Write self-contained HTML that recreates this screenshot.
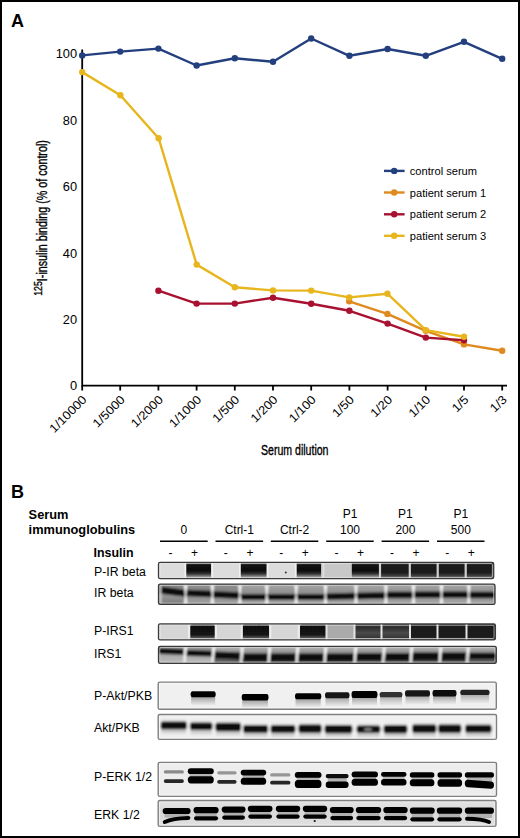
<!DOCTYPE html>
<html><head><meta charset="utf-8">
<style>
html,body{margin:0;padding:0;background:#fff;}
body{width:520px;height:838px;overflow:hidden;position:relative;font-family:"Liberation Sans",sans-serif;}
#frame{position:absolute;left:0;top:0;width:520px;height:838px;box-sizing:border-box;border:2px solid #000;}
svg{position:absolute;left:0;top:0;}
svg text{font-family:"Liberation Sans",sans-serif;}
</style></head>
<body>
<svg width="520" height="838" viewBox="0 0 520 838">
<!-- Panel A -->
<text x="11" y="26.5" font-size="18" font-weight="bold">A</text>
<!-- axes -->
<g stroke="#000" stroke-width="1.8" fill="none">
<path d="M82.2 49.5 V385.7 H507"/>
<path d="M82.2 385.7 V390.5 M120.2 385.7 V390.5 M158.4 385.7 V390.5 M196.6 385.7 V390.5 M234.8 385.7 V390.5 M273 385.7 V390.5 M311.2 385.7 V390.5 M349.4 385.7 V390.5 M387.6 385.7 V390.5 M425.8 385.7 V390.5 M464 385.7 V390.5 M502.2 385.7 V390.5"/>
</g>
<g font-size="12" text-anchor="end" fill="#000">
<text transform="translate(77.1,58.35) scale(1.07,1)">100</text>
<text transform="translate(77.1,124.75) scale(1.07,1)">80</text>
<text transform="translate(77.1,191.15) scale(1.07,1)">60</text>
<text transform="translate(77.1,257.55) scale(1.07,1)">40</text>
<text transform="translate(77.1,323.95) scale(1.07,1)">20</text>
<text transform="translate(77.1,390.35) scale(1.07,1)">0</text>
</g>
<g font-size="12" text-anchor="end" fill="#000">
<text transform="translate(87.4,400.3) rotate(-45) scale(1.08,1)">1/10000</text>
<text transform="translate(125.6,400.3) rotate(-45) scale(1.08,1)">1/5000</text>
<text transform="translate(163.8,400.3) rotate(-45) scale(1.08,1)">1/2000</text>
<text transform="translate(202.0,400.3) rotate(-45) scale(1.08,1)">1/1000</text>
<text transform="translate(240.2,400.3) rotate(-45) scale(1.08,1)">1/500</text>
<text transform="translate(278.4,400.3) rotate(-45) scale(1.08,1)">1/200</text>
<text transform="translate(316.6,400.3) rotate(-45) scale(1.08,1)">1/100</text>
<text transform="translate(354.8,400.3) rotate(-45) scale(1.08,1)">1/50</text>
<text transform="translate(393.0,400.3) rotate(-45) scale(1.08,1)">1/20</text>
<text transform="translate(431.2,400.3) rotate(-45) scale(1.08,1)">1/10</text>
<text transform="translate(469.4,400.3) rotate(-45) scale(1.08,1)">1/5</text>
<text transform="translate(507.6,400.3) rotate(-45) scale(1.08,1)">1/3</text>
</g>
<text x="261" y="454.6" font-size="14" transform="translate(261,0) scale(0.755,1) translate(-261,0)" stroke="#000" stroke-width="0.35">Serum dilution</text>
<text transform="translate(46.5,295.8) rotate(-90) scale(0.765,1)" font-size="14" stroke="#000" stroke-width="0.35"><tspan font-size="11.5" dy="-5">125</tspan><tspan dy="5">I-insulin binding (% of control)</tspan></text>
<!-- series -->
<g fill="none" stroke-width="2.4" stroke-linejoin="round">
<polyline stroke="#df8a1f" points="349.2,301.3 387.4,313.9 425.8,330.8 464,344.4 502.2,350.7"/>
<polyline stroke="#a8112f" points="158.4,290.7 196.6,303.6 234.8,303.6 273,297.7 311.2,303.7 349.4,310.8 387.6,323.6 425.8,337.6 464,340.3"/>
<polyline stroke="#e7b51c" points="82.2,72.1 120.4,95.3 158.6,138.2 196.7,264.6 234.8,287.3 273,290.4 311.2,290.6 349.2,297.4 387.4,293.7 425.8,330.1 464,336.8"/>
<polyline stroke="#233f7e" points="82.2,55.4 120.2,51.6 158.4,48.6 196.6,65.5 234.8,58.3 273,61.7 311.2,38.5 349.4,55.8 387.6,49 425.8,55.8 464,41.8 502.2,58.8"/>
</g>
<g fill="#df8a1f"><circle cx="349.2" cy="301.3" r="3.2"/><circle cx="387.4" cy="313.9" r="3.2"/><circle cx="425.8" cy="330.8" r="3.2"/><circle cx="464" cy="344.4" r="3.2"/><circle cx="502.2" cy="350.7" r="3.2"/></g>
<g fill="#a8112f"><circle cx="158.4" cy="290.7" r="3.2"/><circle cx="196.6" cy="303.6" r="3.2"/><circle cx="234.8" cy="303.6" r="3.2"/><circle cx="273" cy="297.7" r="3.2"/><circle cx="311.2" cy="303.7" r="3.2"/><circle cx="349.4" cy="310.8" r="3.2"/><circle cx="387.6" cy="323.6" r="3.2"/><circle cx="425.8" cy="337.6" r="3.2"/><circle cx="464" cy="340.3" r="3.2"/></g>
<g fill="#e7b51c"><circle cx="82.2" cy="72.1" r="3.2"/><circle cx="120.4" cy="95.3" r="3.2"/><circle cx="158.6" cy="138.2" r="3.2"/><circle cx="196.7" cy="264.6" r="3.2"/><circle cx="234.8" cy="287.3" r="3.2"/><circle cx="273" cy="290.4" r="3.2"/><circle cx="311.2" cy="290.6" r="3.2"/><circle cx="349.2" cy="297.4" r="3.2"/><circle cx="387.4" cy="293.7" r="3.2"/><circle cx="425.8" cy="330.1" r="3.2"/><circle cx="464" cy="336.8" r="3.2"/></g>
<g fill="#233f7e"><circle cx="82.2" cy="55.4" r="3.2"/><circle cx="120.2" cy="51.6" r="3.2"/><circle cx="158.4" cy="48.6" r="3.2"/><circle cx="196.6" cy="65.5" r="3.2"/><circle cx="234.8" cy="58.3" r="3.2"/><circle cx="273" cy="61.7" r="3.2"/><circle cx="311.2" cy="38.5" r="3.2"/><circle cx="349.4" cy="55.8" r="3.2"/><circle cx="387.6" cy="49" r="3.2"/><circle cx="425.8" cy="55.8" r="3.2"/><circle cx="464" cy="41.8" r="3.2"/><circle cx="502.2" cy="58.8" r="3.2"/></g>
<!-- legend -->
<g stroke-width="2.4">
<line x1="384" y1="170.9" x2="404.6" y2="170.9" stroke="#233f7e"/><circle cx="394.2" cy="170.9" r="3.2" fill="#233f7e"/>
<line x1="384" y1="192.5" x2="404.6" y2="192.5" stroke="#df8a1f"/><circle cx="394.2" cy="192.5" r="3.2" fill="#df8a1f"/>
<line x1="384" y1="214.3" x2="404.6" y2="214.3" stroke="#a8112f"/><circle cx="394.2" cy="214.3" r="3.2" fill="#a8112f"/>
<line x1="384" y1="235.8" x2="404.6" y2="235.8" stroke="#e7b51c"/><circle cx="394.2" cy="235.8" r="3.2" fill="#e7b51c"/>
</g>
<g font-size="11.1" fill="#000">
<text x="409.8" y="175">control serum</text>
<text x="409.8" y="196.6">patient serum 1</text>
<text x="409.8" y="218.4">patient serum 2</text>
<text x="409.8" y="239.9">patient serum 3</text>
</g>

<!-- Panel B -->
<text x="11" y="497.9" font-size="18" font-weight="bold">B</text>
<g font-size="12.8" font-weight="bold"><text x="28.6" y="518.5">Serum</text><text x="28.6" y="533.5">immunoglobulins</text></g>
<g stroke="#000" stroke-width="1.5">
<line x1="160" y1="541.2" x2="207.7" y2="541.2"/>
<line x1="215.5" y1="541.2" x2="263.1" y2="541.2"/>
<line x1="270.8" y1="541.2" x2="318.3" y2="541.2"/>
<line x1="326.2" y1="541.2" x2="373.7" y2="541.2"/>
<line x1="381.6" y1="541.2" x2="429.1" y2="541.2"/>
<line x1="437" y1="541.2" x2="484.5" y2="541.2"/>
</g>
<g font-size="12" text-anchor="middle">
<text x="183.8" y="533.5">0</text>
<text x="239.3" y="533.5">Ctrl-1</text>
<text x="294.6" y="533.5">Ctrl-2</text>
<text x="350" y="518">P1</text><text x="350" y="533.5">100</text>
<text x="405.4" y="518">P1</text><text x="405.4" y="533.5">200</text>
<text x="460.8" y="518">P1</text><text x="460.8" y="533.5">500</text>
</g>
<text x="93.6" y="556.9" font-size="12.4" font-weight="bold">Insulin</text>
<g font-size="12" text-anchor="middle" id="pm">
<text x="170.4" y="556.9">-</text><text x="194.5" y="557">+</text><text x="225.8" y="556.9">-</text><text x="249.9" y="557">+</text><text x="281.2" y="556.9">-</text><text x="305.2" y="557">+</text><text x="336.5" y="556.9">-</text><text x="360.6" y="557">+</text><text x="391.9" y="556.9">-</text><text x="415.9" y="557">+</text><text x="447.2" y="556.9">-</text><text x="471.3" y="557">+</text>
</g>
<g font-size="12.3">
<text x="94" y="576.4">P-IR beta</text>
<text x="94" y="596.6">IR beta</text>
<text x="94" y="635.4">P-IRS1</text>
<text x="94" y="657.9">IRS1</text>
<text x="94" y="699.7">P-Akt/PKB</text>
<text x="94" y="731.8">Akt/PKB</text>
<text x="94" y="780.9">P-ERK 1/2</text>
<text x="94" y="818.6">ERK 1/2</text>
</g>
<!-- blots -->
<defs><linearGradient id="g1" x1="0" y1="0" x2="0" y2="1"><stop offset="0" stop-color="#3a3a3a"/><stop offset="0.12" stop-color="#121212"/><stop offset="0.55" stop-color="#101010"/><stop offset="0.72" stop-color="#3a3a3a"/><stop offset="0.86" stop-color="#808080"/><stop offset="1" stop-color="#a0a0a0"/></linearGradient><linearGradient id="g2" x1="0" y1="0" x2="0" y2="1"><stop offset="0" stop-color="#3a3a3a"/><stop offset="0.12" stop-color="#1c1c1c"/><stop offset="0.6" stop-color="#1a1a1a"/><stop offset="0.8" stop-color="#3a3a3a"/><stop offset="1" stop-color="#6a6a6a"/></linearGradient><clipPath id="c3"><rect x="158.5" y="562.3" width="335.2" height="16.4" rx="1.6"/></clipPath><filter id="f4" x="-5%" y="-50%" width="110%" height="200%"><feGaussianBlur stdDeviation="0.6"/></filter><linearGradient id="g5" x1="0" y1="0" x2="0" y2="1"><stop offset="0" stop-color="#b0b0b0"/><stop offset="0.45" stop-color="#8e8e8e"/><stop offset="0.8" stop-color="#a2a2a2"/><stop offset="1" stop-color="#bababa"/></linearGradient><linearGradient id="g6" x1="0" y1="0" x2="0" y2="1"><stop offset="0" stop-color="#7a7a7a"/><stop offset="0.5" stop-color="#9a9a9a"/><stop offset="1" stop-color="#707070"/></linearGradient><linearGradient id="g7" x1="0" y1="0" x2="0" y2="1"><stop offset="0" stop-color="#969696"/><stop offset="0.4" stop-color="#848484"/><stop offset="1" stop-color="#aaaaaa"/></linearGradient><clipPath id="c8"><rect x="158.5" y="584.2" width="336.5" height="20.2" rx="1.6"/></clipPath><filter id="f9" x="-5%" y="-50%" width="110%" height="200%"><feGaussianBlur stdDeviation="0.85"/></filter><linearGradient id="g10" x1="0" y1="0" x2="0" y2="1"><stop offset="0" stop-color="#3a3a3a"/><stop offset="0.1" stop-color="#111"/><stop offset="0.55" stop-color="#121212"/><stop offset="0.75" stop-color="#5a5a5a"/><stop offset="1" stop-color="#9a9a9a"/></linearGradient><linearGradient id="g11" x1="0" y1="0" x2="0" y2="1"><stop offset="0" stop-color="#4a4a4a"/><stop offset="0.3" stop-color="#2e2e2e"/><stop offset="0.55" stop-color="#4a4a4a"/><stop offset="0.75" stop-color="#383838"/><stop offset="1" stop-color="#5a5a5a"/></linearGradient><linearGradient id="g12" x1="0" y1="0" x2="0" y2="1"><stop offset="0" stop-color="#3a3a3a"/><stop offset="0.2" stop-color="#1a1a1a"/><stop offset="0.7" stop-color="#1c1c1c"/><stop offset="1" stop-color="#3a3a3a"/></linearGradient><clipPath id="c13"><rect x="158.5" y="623.9" width="336.9" height="15.9" rx="1.6"/></clipPath><filter id="f14" x="-5%" y="-50%" width="110%" height="200%"><feGaussianBlur stdDeviation="0.6"/></filter><linearGradient id="g15" x1="0" y1="0" x2="0" y2="1"><stop offset="0" stop-color="#cccccc"/><stop offset="0.35" stop-color="#989898"/><stop offset="0.8" stop-color="#555"/><stop offset="1" stop-color="#8a8a8a"/></linearGradient><linearGradient id="g16" x1="0" y1="0" x2="0" y2="1"><stop offset="0" stop-color="#888"/><stop offset="0.5" stop-color="#aaa"/><stop offset="1" stop-color="#c4c4c4"/></linearGradient><clipPath id="c17"><rect x="158.5" y="646.3" width="337.8" height="17.1" rx="1.6"/></clipPath><filter id="f18" x="-5%" y="-50%" width="110%" height="200%"><feGaussianBlur stdDeviation="0.85"/></filter><linearGradient id="g19" x1="0" y1="0" x2="0" y2="1"><stop offset="0" stop-color="#707070"/><stop offset="0.3" stop-color="#a4a4a4"/><stop offset="0.7" stop-color="#cfcfcf"/><stop offset="1" stop-color="#ececec"/></linearGradient><clipPath id="c20"><rect x="158.2" y="682.1" width="338.1" height="27.2" rx="1.6"/></clipPath><filter id="f21" x="-5%" y="-50%" width="110%" height="200%"><feGaussianBlur stdDeviation="0.75"/></filter><linearGradient id="g22" x1="0" y1="0" x2="0" y2="1"><stop offset="0" stop-color="#808080"/><stop offset="0.4" stop-color="#b8b8b8"/><stop offset="1" stop-color="#e8e8e8"/></linearGradient><linearGradient id="g23" x1="0" y1="0" x2="0" y2="1"><stop offset="0" stop-color="#ececec"/><stop offset="1" stop-color="#c8c8c8"/></linearGradient><clipPath id="c24"><rect x="158.2" y="714.5" width="338.3" height="24.9" rx="1.6"/></clipPath><filter id="f25" x="-5%" y="-50%" width="110%" height="200%"><feGaussianBlur stdDeviation="0.8"/></filter><linearGradient id="g26" x1="0" y1="0" x2="0" y2="1"><stop offset="0" stop-color="#e8e8e8"/><stop offset="1" stop-color="#c0c0c0"/></linearGradient><clipPath id="c27"><rect x="158.2" y="762.4" width="338.3" height="34.0" rx="1.6"/></clipPath><filter id="f28" x="-5%" y="-50%" width="110%" height="200%"><feGaussianBlur stdDeviation="0.7"/></filter><linearGradient id="g29" x1="0" y1="0" x2="0" y2="1"><stop offset="0" stop-color="#e6e6e6"/><stop offset="0.5" stop-color="#d8d8d8"/><stop offset="1" stop-color="#e4e4e4"/></linearGradient><clipPath id="c30"><rect x="158.2" y="800.5" width="337.8" height="25.9" rx="1.6"/></clipPath><filter id="f31" x="-5%" y="-50%" width="110%" height="200%"><feGaussianBlur stdDeviation="0.7"/></filter></defs>
<g clip-path="url(#c3)"><g filter="url(#f4)"><rect x="155.5" y="559.3" width="341.2" height="22.4" fill="#e0e0e0"/><rect x="158.5" y="559.3" width="27.8" height="22.4" fill="#dcdcdc"/><rect x="158.5" y="559.3" width="1.8" height="22.4" fill="#f0f0f0"/><rect x="184.5" y="559.3" width="1.8" height="22.4" fill="#f0f0f0"/><rect x="186.3" y="562.7" width="25.1" height="15.7" fill="url(#g1)"/><rect x="211.4" y="559.3" width="29.4" height="22.4" fill="#dcdcdc"/><rect x="211.4" y="559.3" width="1.8" height="22.4" fill="#f0f0f0"/><rect x="239.0" y="559.3" width="1.8" height="22.4" fill="#f0f0f0"/><rect x="240.8" y="562.7" width="26.0" height="15.7" fill="url(#g1)"/><rect x="266.8" y="559.3" width="29.9" height="22.4" fill="#dcdcdc"/><rect x="266.8" y="559.3" width="1.8" height="22.4" fill="#f0f0f0"/><rect x="294.9" y="559.3" width="1.8" height="22.4" fill="#f0f0f0"/><rect x="296.7" y="562.7" width="25.5" height="15.7" fill="url(#g1)"/><rect x="322.2" y="559.3" width="29.6" height="22.4" fill="#c8c8c8"/><rect x="322.2" y="559.3" width="2.0" height="22.4" fill="#e8e8e8"/><rect x="351.8" y="562.7" width="28.2" height="15.7" fill="url(#g1)"/><rect x="380.0" y="562.7" width="29.8" height="15.7" fill="url(#g2)"/><rect x="409.8" y="562.7" width="27.9" height="15.7" fill="url(#g2)"/><rect x="437.7" y="562.7" width="28.0" height="15.7" fill="url(#g2)"/><rect x="465.7" y="562.7" width="28.0" height="15.7" fill="url(#g2)"/><rect x="321.1" y="559.3" width="2.2" height="22.4" fill="#d0d0d0"/><rect x="378.9" y="559.3" width="2.2" height="22.4" fill="#d0d0d0"/><rect x="408.7" y="559.3" width="2.2" height="22.4" fill="#d0d0d0"/><rect x="436.6" y="559.3" width="2.2" height="22.4" fill="#d0d0d0"/><rect x="464.6" y="559.3" width="2.2" height="22.4" fill="#d0d0d0"/><circle cx="285.8" cy="572.4" r="1" fill="#333"/></g></g>
<rect x="159.8" y="563.6" width="332.6" height="13.8" rx="1" fill="none" stroke="#e6e6e6" stroke-width="0.9" opacity="0.8"/>
<rect x="158.5" y="562.3" width="335.2" height="16.4" rx="1.6" fill="none" stroke="#3a3a3a" stroke-width="1.3"/>
<g clip-path="url(#c8)"><g filter="url(#f9)"><rect x="155.5" y="581.2" width="342.5" height="26.2" fill="url(#g5)"/><rect x="155.5" y="581.2" width="30.1" height="26.2" fill="url(#g6)"/><rect x="185.6" y="581.2" width="54.3" height="26.2" fill="url(#g7)"/><path d="M160.5 586.5 L183.6 589.4 Q186.6 589.4 186.6 593.0 Q186.6 596.6 183.6 596.6 L160.5 593.7 Q157.5 593.7 157.5 590.1 Q157.5 586.5 160.5 586.5Z" fill="#0c0c0c"/><path d="M187.6 589.8 L210.4 590.8 Q213.4 590.8 213.4 594.0 Q213.4 597.2 210.4 597.2 L187.6 596.2 Q184.6 596.2 184.6 593.0 Q184.6 589.8 187.6 589.8Z" fill="#0c0c0c"/><path d="M214.4 591.3 L237.9 592.3 Q240.9 592.3 240.9 595.5 Q240.9 598.7 237.9 598.7 L214.4 597.7 Q211.4 597.7 211.4 594.5 Q211.4 591.3 214.4 591.3Z" fill="#0c0c0c"/><path d="M241.9 593.9 L264.8 593.9 Q267.8 593.9 267.8 597.0 Q267.8 600.1 264.8 600.1 L241.9 600.1 Q238.9 600.1 238.9 597.0 Q238.9 593.9 241.9 593.9Z" fill="#0c0c0c"/><path d="M268.8 593.9 L294.2 593.9 Q297.2 593.9 297.2 597.0 Q297.2 600.1 294.2 600.1 L268.8 600.1 Q265.8 600.1 265.8 597.0 Q265.8 593.9 268.8 593.9Z" fill="#0c0c0c"/><path d="M298.2 593.9 L323.5 593.9 Q326.5 593.9 326.5 597.0 Q326.5 600.1 323.5 600.1 L298.2 600.1 Q295.2 600.1 295.2 597.0 Q295.2 593.9 298.2 593.9Z" fill="#0c0c0c"/><path d="M327.5 593.4 L354.0 592.8 Q357.0 592.8 357.0 596.0 Q357.0 599.2 354.0 599.2 L327.5 599.8 Q324.5 599.8 324.5 596.6 Q324.5 593.4 327.5 593.4Z" fill="#0c0c0c"/><path d="M358.0 592.7 L383.9 592.2 Q386.9 592.2 386.9 595.5 Q386.9 598.8 383.9 598.8 L358.0 599.3 Q355.0 599.3 355.0 596.0 Q355.0 592.7 358.0 592.7Z" fill="#0c0c0c"/><path d="M387.9 591.7 L411.5 591.7 Q414.5 591.7 414.5 595.0 Q414.5 598.3 411.5 598.3 L387.9 598.3 Q384.9 598.3 384.9 595.0 Q384.9 591.7 387.9 591.7Z" fill="#0c0c0c"/><path d="M415.5 591.5 L439.5 591.5 Q442.5 591.5 442.5 594.8 Q442.5 598.1 439.5 598.1 L415.5 598.1 Q412.5 598.1 412.5 594.8 Q412.5 591.5 415.5 591.5Z" fill="#0c0c0c"/><path d="M443.5 591.5 L466.8 591.5 Q469.8 591.5 469.8 594.8 Q469.8 598.1 466.8 598.1 L443.5 598.1 Q440.5 598.1 440.5 594.8 Q440.5 591.5 443.5 591.5Z" fill="#0c0c0c"/><path d="M470.8 591.7 L493.0 591.7 Q496.0 591.7 496.0 595.0 Q496.0 598.3 493.0 598.3 L470.8 598.3 Q467.8 598.3 467.8 595.0 Q467.8 591.7 470.8 591.7Z" fill="#0c0c0c"/><path d="M183.6 582.2 L187.6 582.2 L186.2 595.3 L187.6 606.4 L183.6 606.4 L185.0 595.3Z" fill="#f8f8f8"/><path d="M210.4 582.2 L214.4 582.2 L213.0 595.3 L214.4 606.4 L210.4 606.4 L211.8 595.3Z" fill="#f8f8f8"/><path d="M237.9 582.2 L241.9 582.2 L240.5 595.3 L241.9 606.4 L237.9 606.4 L239.3 595.3Z" fill="#f8f8f8"/><path d="M264.8 582.2 L268.8 582.2 L267.4 595.3 L268.8 606.4 L264.8 606.4 L266.2 595.3Z" fill="#f8f8f8"/><path d="M294.2 582.2 L298.2 582.2 L296.8 595.3 L298.2 606.4 L294.2 606.4 L295.6 595.3Z" fill="#f8f8f8"/><path d="M323.5 582.2 L327.5 582.2 L326.1 595.3 L327.5 606.4 L323.5 606.4 L324.9 595.3Z" fill="#f8f8f8"/><path d="M354.0 582.2 L358.0 582.2 L356.6 595.3 L358.0 606.4 L354.0 606.4 L355.4 595.3Z" fill="#f8f8f8"/><path d="M383.9 582.2 L387.9 582.2 L386.5 595.3 L387.9 606.4 L383.9 606.4 L385.3 595.3Z" fill="#f8f8f8"/><path d="M411.5 582.2 L415.5 582.2 L414.1 595.3 L415.5 606.4 L411.5 606.4 L412.9 595.3Z" fill="#f8f8f8"/><path d="M439.5 582.2 L443.5 582.2 L442.1 595.3 L443.5 606.4 L439.5 606.4 L440.9 595.3Z" fill="#f8f8f8"/><path d="M466.8 582.2 L470.8 582.2 L469.4 595.3 L470.8 606.4 L466.8 606.4 L468.2 595.3Z" fill="#f8f8f8"/><rect x="159.5" y="584.2" width="1.8" height="20.2" fill="#d8d8d8"/></g></g>
<rect x="159.8" y="585.5" width="333.9" height="17.6" rx="1" fill="none" stroke="#d0d0d0" stroke-width="0.9" opacity="0.8"/>
<rect x="158.5" y="584.2" width="336.5" height="20.2" rx="1.6" fill="none" stroke="#3a3a3a" stroke-width="1.3"/>
<g clip-path="url(#c13)"><g filter="url(#f14)"><rect x="155.5" y="620.9" width="342.9" height="21.9" fill="#d8d8d8"/><rect x="158.5" y="620.9" width="31.5" height="21.9" fill="#d6d6d6"/><rect x="158.5" y="620.9" width="2.0" height="21.9" fill="#ececec"/><rect x="188.0" y="620.9" width="2.0" height="21.9" fill="#ececec"/><rect x="190.3" y="624.5" width="24.4" height="18.3" fill="url(#g10)" rx="1.5"/><rect x="215.0" y="620.9" width="27.6" height="21.9" fill="#d6d6d6"/><rect x="215.0" y="620.9" width="2.0" height="21.9" fill="#ececec"/><rect x="240.6" y="620.9" width="2.0" height="21.9" fill="#ececec"/><rect x="242.9" y="624.5" width="26.2" height="18.3" fill="url(#g10)" rx="1.5"/><rect x="269.4" y="620.9" width="30.3" height="21.9" fill="#d6d6d6"/><rect x="269.4" y="620.9" width="2.0" height="21.9" fill="#ececec"/><rect x="297.7" y="620.9" width="2.0" height="21.9" fill="#ececec"/><rect x="300.0" y="624.5" width="26.2" height="18.3" fill="url(#g10)" rx="1.5"/><rect x="326.5" y="620.9" width="28.0" height="21.9" fill="#ababab"/><rect x="354.5" y="620.9" width="27.0" height="21.9" fill="url(#g11)"/><rect x="381.5" y="620.9" width="28.5" height="21.9" fill="url(#g11)"/><rect x="410.0" y="620.9" width="27.5" height="21.9" fill="url(#g12)"/><rect x="437.5" y="620.9" width="29.0" height="21.9" fill="url(#g12)"/><rect x="466.5" y="620.9" width="28.9" height="21.9" fill="url(#g12)"/><rect x="325.5" y="620.9" width="2.0" height="21.9" fill="#e4e4e4"/><rect x="353.5" y="620.9" width="2.0" height="21.9" fill="#e4e4e4"/><rect x="380.5" y="620.9" width="2.0" height="21.9" fill="#e4e4e4"/><rect x="409.0" y="620.9" width="2.0" height="21.9" fill="#e4e4e4"/><rect x="436.5" y="620.9" width="2.0" height="21.9" fill="#e4e4e4"/><rect x="465.5" y="620.9" width="2.0" height="21.9" fill="#e4e4e4"/><circle cx="259" cy="625.8" r="1" fill="#000"/></g></g>
<rect x="159.8" y="625.2" width="334.3" height="13.3" rx="1" fill="none" stroke="#e0e0e0" stroke-width="0.9" opacity="0.8"/>
<rect x="158.5" y="623.9" width="336.9" height="15.9" rx="1.6" fill="none" stroke="#3a3a3a" stroke-width="1.3"/>
<g clip-path="url(#c17)"><g filter="url(#f18)"><rect x="155.5" y="643.3" width="343.8" height="23.1" fill="url(#g15)"/><rect x="155.5" y="643.3" width="57.5" height="23.1" fill="url(#g16)"/><path d="M160.4 648.3 L182.9 648.9 Q185.8 648.9 185.8 651.8 Q185.8 654.7 182.9 654.7 L160.4 654.1 Q157.5 654.1 157.5 651.2 Q157.5 648.3 160.4 648.3Z" fill="#0c0c0c"/><path d="M186.7 650.1 L211.1 650.7 Q214.0 650.7 214.0 653.6 Q214.0 656.5 211.1 656.5 L186.7 655.9 Q183.8 655.9 183.8 653.0 Q183.8 650.1 186.7 650.1Z" fill="#0c0c0c"/><path d="M215.0 651.5 L239.5 652.5 Q242.5 652.5 242.5 656.0 Q242.5 659.5 239.5 659.5 L215.0 658.5 Q212.0 658.5 212.0 655.0 Q212.0 651.5 215.0 651.5Z" fill="#0c0c0c"/><path d="M243.5 653.5 L267.0 653.5 Q270.0 653.5 270.0 657.5 Q270.0 661.5 267.0 661.5 L243.5 661.5 Q240.5 661.5 240.5 657.5 Q240.5 653.5 243.5 653.5Z" fill="#0c0c0c"/><path d="M271.0 653.5 L295.0 653.5 Q298.0 653.5 298.0 657.5 Q298.0 661.5 295.0 661.5 L271.0 661.5 Q268.0 661.5 268.0 657.5 Q268.0 653.5 271.0 653.5Z" fill="#0c0c0c"/><path d="M299.0 653.5 L323.0 653.5 Q326.0 653.5 326.0 657.5 Q326.0 661.5 323.0 661.5 L299.0 661.5 Q296.0 661.5 296.0 657.5 Q296.0 653.5 299.0 653.5Z" fill="#0c0c0c"/><path d="M327.0 653.5 L353.0 653.5 Q356.0 653.5 356.0 657.5 Q356.0 661.5 353.0 661.5 L327.0 661.5 Q324.0 661.5 324.0 657.5 Q324.0 653.5 327.0 653.5Z" fill="#0c0c0c"/><path d="M357.0 653.2 L381.5 653.2 Q384.5 653.2 384.5 657.0 Q384.5 660.8 381.5 660.8 L357.0 660.8 Q354.0 660.8 354.0 657.0 Q354.0 653.2 357.0 653.2Z" fill="#0c0c0c"/><path d="M385.5 653.2 L409.0 653.2 Q412.0 653.2 412.0 657.0 Q412.0 660.8 409.0 660.8 L385.5 660.8 Q382.5 660.8 382.5 657.0 Q382.5 653.2 385.5 653.2Z" fill="#0c0c0c"/><path d="M413.0 652.5 L438.0 652.5 Q441.0 652.5 441.0 656.5 Q441.0 660.5 438.0 660.5 L413.0 660.5 Q410.0 660.5 410.0 656.5 Q410.0 652.5 413.0 652.5Z" fill="#0c0c0c"/><path d="M442.0 652.5 L465.5 652.5 Q468.5 652.5 468.5 656.5 Q468.5 660.5 465.5 660.5 L442.0 660.5 Q439.0 660.5 439.0 656.5 Q439.0 652.5 442.0 652.5Z" fill="#0c0c0c"/><path d="M469.5 652.8 L494.3 652.8 Q497.3 652.8 497.3 656.0 Q497.3 659.2 494.3 659.2 L469.5 659.2 Q466.5 659.2 466.5 656.0 Q466.5 652.8 469.5 652.8Z" fill="#0c0c0c"/><path d="M184.2 644.3 L187.4 644.3 L185.2 665.4 L183.2 665.4Z" fill="#f6f6f6"/><path d="M212.4 644.3 L215.6 644.3 L213.4 665.4 L211.4 665.4Z" fill="#f6f6f6"/><path d="M240.9 644.3 L244.1 644.3 L241.9 665.4 L239.9 665.4Z" fill="#f6f6f6"/><path d="M268.4 644.3 L271.6 644.3 L269.4 665.4 L267.4 665.4Z" fill="#f6f6f6"/><path d="M296.4 644.3 L299.6 644.3 L297.4 665.4 L295.4 665.4Z" fill="#f6f6f6"/><path d="M324.4 644.3 L327.6 644.3 L325.4 665.4 L323.4 665.4Z" fill="#f6f6f6"/><path d="M354.4 644.3 L357.6 644.3 L355.4 665.4 L353.4 665.4Z" fill="#f6f6f6"/><path d="M382.9 644.3 L386.1 644.3 L383.9 665.4 L381.9 665.4Z" fill="#f6f6f6"/><path d="M410.4 644.3 L413.6 644.3 L411.4 665.4 L409.4 665.4Z" fill="#f6f6f6"/><path d="M439.4 644.3 L442.6 644.3 L440.4 665.4 L438.4 665.4Z" fill="#f6f6f6"/><path d="M466.9 644.3 L470.1 644.3 L467.9 665.4 L465.9 665.4Z" fill="#f6f6f6"/></g></g>
<rect x="159.8" y="647.6" width="335.2" height="14.5" rx="1" fill="none" stroke="#d8d8d8" stroke-width="0.9" opacity="0.8"/>
<rect x="158.5" y="646.3" width="337.8" height="17.1" rx="1.6" fill="none" stroke="#3a3a3a" stroke-width="1.3"/>
<g clip-path="url(#c20)"><g filter="url(#f21)"><rect x="155.2" y="679.1" width="344.1" height="33.2" fill="#f0f0f0"/><rect x="191.1" y="694.2" width="24.1" height="11.0" fill="url(#g19)" opacity="1"/><path d="M192.6 691.2 L213.7 691.2 Q215.7 691.2 215.7 694.2 Q215.7 697.2 213.7 697.2 L192.6 697.2 Q190.6 697.2 190.6 694.2 Q190.6 691.2 192.6 691.2Z" fill="#050505"/><rect x="242.2" y="697.2" width="25.8" height="11.0" fill="url(#g19)" opacity="1"/><path d="M243.7 694.0 L266.5 694.0 Q268.5 694.0 268.5 697.2 Q268.5 700.4 266.5 700.4 L243.7 700.4 Q241.7 700.4 241.7 697.2 Q241.7 694.0 243.7 694.0Z" fill="#000"/><rect x="295.5" y="696.2" width="25.3" height="11.0" fill="url(#g19)" opacity="1"/><path d="M297.0 693.2 L319.3 693.2 Q321.3 693.2 321.3 696.2 Q321.3 699.2 319.3 699.2 L297.0 699.2 Q295.0 699.2 295.0 696.2 Q295.0 693.2 297.0 693.2Z" fill="#000"/><rect x="325.5" y="695.3" width="23.5" height="11.0" fill="url(#g19)" opacity="0.9"/><path d="M327.0 692.3 L347.5 692.3 Q349.5 692.3 349.5 695.3 Q349.5 698.3 347.5 698.3 L327.0 698.3 Q325.0 698.3 325.0 695.3 Q325.0 692.3 327.0 692.3Z" fill="#141414"/><rect x="352.0" y="694.6" width="25.0" height="11.0" fill="url(#g19)" opacity="1"/><path d="M353.5 691.1 L375.5 691.1 Q377.5 691.1 377.5 694.6 Q377.5 698.1 375.5 698.1 L353.5 698.1 Q351.5 698.1 351.5 694.6 Q351.5 691.1 353.5 691.1Z" fill="#050505"/><rect x="380.0" y="694.6" width="22.0" height="11.0" fill="url(#g19)" opacity="0.75"/><path d="M381.5 691.9 L400.5 691.9 Q402.5 691.9 402.5 694.6 Q402.5 697.3 400.5 697.3 L381.5 697.3 Q379.5 697.3 379.5 694.6 Q379.5 691.9 381.5 691.9Z" fill="#303030"/><rect x="405.5" y="693.4" width="24.0" height="11.0" fill="url(#g19)" opacity="0.9"/><path d="M407.0 690.3 L428.0 690.3 Q430.0 690.3 430.0 693.4 Q430.0 696.5 428.0 696.5 L407.0 696.5 Q405.0 696.5 405.0 693.4 Q405.0 690.3 407.0 690.3Z" fill="#121212"/><rect x="433.0" y="693.2" width="23.0" height="11.0" fill="url(#g19)" opacity="1"/><path d="M434.5 689.9 L454.5 689.9 Q456.5 689.9 456.5 693.2 Q456.5 696.5 454.5 696.5 L434.5 696.5 Q432.5 696.5 432.5 693.2 Q432.5 689.9 434.5 689.9Z" fill="#0a0a0a"/><rect x="460.7" y="692.4" width="28.4" height="11.0" fill="url(#g19)" opacity="0.8"/><path d="M462.2 689.8 L487.6 689.8 Q489.6 689.8 489.6 692.4 Q489.6 695.0 487.6 695.0 L462.2 695.0 Q460.2 695.0 460.2 692.4 Q460.2 689.8 462.2 689.8Z" fill="#222"/></g></g>
<rect x="159.5" y="683.4" width="335.5" height="24.6" rx="1" fill="none" stroke="#fafafa" stroke-width="0.9" opacity="0.8"/>
<rect x="158.2" y="682.1" width="338.1" height="27.2" rx="1.6" fill="none" stroke="#808080" stroke-width="1.4"/>
<g clip-path="url(#c24)"><g filter="url(#f25)"><rect x="155.2" y="711.5" width="344.3" height="30.9" fill="#f0f0f0"/><rect x="161.3" y="718.9" width="24.9" height="6.5" fill="url(#g23)"/><rect x="161.3" y="725.4" width="24.9" height="9.0" fill="url(#g22)"/><path d="M162.7 721.5 L184.8 721.5 Q187.0 721.5 187.0 725.4 Q187.0 729.3 184.8 729.3 L162.7 729.3 Q160.5 729.3 160.5 725.4 Q160.5 721.5 162.7 721.5Z" fill="#0a0a0a"/><rect x="190.6" y="720.0" width="21.2" height="6.2" fill="url(#g23)"/><rect x="190.6" y="726.2" width="21.2" height="9.0" fill="url(#g22)"/><path d="M192.0 722.6 L210.4 722.6 Q212.6 722.6 212.6 726.2 Q212.6 729.9 210.4 729.9 L192.0 729.9 Q189.8 729.9 189.8 726.2 Q189.8 722.6 192.0 722.6Z" fill="#0a0a0a"/><rect x="216.0" y="720.2" width="24.4" height="6.8" fill="url(#g23)"/><rect x="216.0" y="727.0" width="24.4" height="9.0" fill="url(#g22)"/><path d="M217.4 722.8 L239.0 722.8 Q241.2 722.8 241.2 727.0 Q241.2 731.2 239.0 731.2 L217.4 731.2 Q215.2 731.2 215.2 727.0 Q215.2 722.8 217.4 722.8Z" fill="#0a0a0a"/><rect x="243.8" y="722.4" width="23.6" height="6.5" fill="url(#g23)"/><rect x="243.8" y="728.9" width="23.6" height="9.0" fill="url(#g22)"/><path d="M245.2 725.0 L266.0 725.0 Q268.2 725.0 268.2 728.9 Q268.2 732.8 266.0 732.8 L245.2 732.8 Q243.0 732.8 243.0 728.9 Q243.0 725.0 245.2 725.0Z" fill="#0a0a0a"/><rect x="271.3" y="722.4" width="23.4" height="6.5" fill="url(#g23)"/><rect x="271.3" y="728.9" width="23.4" height="9.0" fill="url(#g22)"/><path d="M272.7 725.0 L293.3 725.0 Q295.5 725.0 295.5 728.9 Q295.5 732.8 293.3 732.8 L272.7 732.8 Q270.5 732.8 270.5 728.9 Q270.5 725.0 272.7 725.0Z" fill="#0a0a0a"/><rect x="299.1" y="722.0" width="21.9" height="6.7" fill="url(#g23)"/><rect x="299.1" y="728.7" width="21.9" height="9.0" fill="url(#g22)"/><path d="M300.5 724.6 L319.6 724.6 Q321.8 724.6 321.8 728.7 Q321.8 732.8 319.6 732.8 L300.5 732.8 Q298.3 732.8 298.3 728.7 Q298.3 724.6 300.5 724.6Z" fill="#0a0a0a"/><rect x="325.3" y="722.5" width="26.4" height="6.7" fill="url(#g23)"/><rect x="325.3" y="729.2" width="26.4" height="9.0" fill="url(#g22)"/><path d="M326.7 725.1 L350.3 725.1 Q352.5 725.1 352.5 729.2 Q352.5 733.3 350.3 733.3 L326.7 733.3 Q324.5 733.3 324.5 729.2 Q324.5 725.1 326.7 725.1Z" fill="#0a0a0a"/><rect x="357.3" y="723.0" width="22.4" height="6.2" fill="url(#g23)"/><rect x="357.3" y="729.2" width="22.4" height="9.0" fill="url(#g22)"/><path d="M358.7 725.6 L378.3 725.6 Q380.5 725.6 380.5 729.2 Q380.5 732.8 378.3 732.8 L358.7 732.8 Q356.5 732.8 356.5 729.2 Q356.5 725.6 358.7 725.6Z" fill="#0a0a0a"/><rect x="384.3" y="722.5" width="22.4" height="6.7" fill="url(#g23)"/><rect x="384.3" y="729.2" width="22.4" height="9.0" fill="url(#g22)"/><path d="M385.7 725.1 L405.3 725.1 Q407.5 725.1 407.5 729.2 Q407.5 733.3 405.3 733.3 L385.7 733.3 Q383.5 733.3 383.5 729.2 Q383.5 725.1 385.7 725.1Z" fill="#0a0a0a"/><rect x="412.8" y="722.0" width="22.9" height="6.7" fill="url(#g23)"/><rect x="412.8" y="728.7" width="22.9" height="9.0" fill="url(#g22)"/><path d="M414.2 724.6 L434.3 724.6 Q436.5 724.6 436.5 728.7 Q436.5 732.8 434.3 732.8 L414.2 732.8 Q412.0 732.8 412.0 728.7 Q412.0 724.6 414.2 724.6Z" fill="#0a0a0a"/><rect x="438.8" y="722.0" width="21.9" height="6.7" fill="url(#g23)"/><rect x="438.8" y="728.7" width="21.9" height="9.0" fill="url(#g22)"/><path d="M440.2 724.6 L459.3 724.6 Q461.5 724.6 461.5 728.7 Q461.5 732.8 459.3 732.8 L440.2 732.8 Q438.0 732.8 438.0 728.7 Q438.0 724.6 440.2 724.6Z" fill="#0a0a0a"/><rect x="465.8" y="722.2" width="25.2" height="6.5" fill="url(#g23)"/><rect x="465.8" y="728.7" width="25.2" height="9.0" fill="url(#g22)"/><path d="M467.2 724.8 L489.6 724.8 Q491.8 724.8 491.8 728.7 Q491.8 732.6 489.6 732.6 L467.2 732.6 Q465.0 732.6 465.0 728.7 Q465.0 724.8 467.2 724.8Z" fill="#0a0a0a"/><ellipse cx="368" cy="729.4" rx="4" ry="2" fill="#777"/></g></g>
<rect x="159.5" y="715.8" width="335.7" height="22.3" rx="1" fill="none" stroke="#fafafa" stroke-width="0.9" opacity="0.8"/>
<rect x="158.2" y="714.5" width="338.3" height="24.9" rx="1.6" fill="none" stroke="#808080" stroke-width="1.4"/>
<g clip-path="url(#c27)"><g filter="url(#f28)"><rect x="155.2" y="759.4" width="344.3" height="40.0" fill="#ededed"/><path d="M165.4 770.3 L182.3 770.3 Q183.9 770.3 183.9 771.9 Q183.9 773.5 182.3 773.5 L165.4 773.5 Q163.8 773.5 163.8 771.9 Q163.8 770.3 165.4 770.3Z" fill="#8a8a8a"/><path d="M165.7 779.2 L182.0 779.2 Q183.9 779.2 183.9 781.1 Q183.9 783.0 182.0 783.0 L165.7 783.0 Q163.8 783.0 163.8 781.1 Q163.8 779.2 165.7 779.2Z" fill="#262626"/><rect x="189.8" y="771.2" width="22.0" height="8.6" fill="#b4b4b4"/><path d="M190.7 768.3 L210.9 768.3 Q213.8 768.3 213.8 771.2 Q213.8 774.1 210.9 774.1 L190.7 774.1 Q187.8 774.1 187.8 771.2 Q187.8 768.3 190.7 768.3Z" fill="#000"/><path d="M190.8 776.2 L210.8 776.2 Q213.8 776.2 213.8 779.8 Q213.8 783.4 210.8 783.4 L190.8 783.4 Q187.8 783.4 187.8 779.8 Q187.8 776.2 190.8 776.2Z" fill="#000"/><path d="M218.8 771.2 L235.0 771.2 Q236.6 771.2 236.6 772.8 Q236.6 774.4 235.0 774.4 L218.8 774.4 Q217.2 774.4 217.2 772.8 Q217.2 771.2 218.8 771.2Z" fill="#959595"/><path d="M219.1 779.9 L234.7 779.9 Q236.6 779.9 236.6 781.8 Q236.6 783.7 234.7 783.7 L219.1 783.7 Q217.2 783.7 217.2 781.8 Q217.2 779.9 219.1 779.9Z" fill="#262626"/><rect x="242.7" y="772.6" width="21.5" height="8.7" fill="#b4b4b4"/><path d="M243.6 769.7 L263.3 769.7 Q266.2 769.7 266.2 772.6 Q266.2 775.5 263.3 775.5 L243.6 775.5 Q240.7 775.5 240.7 772.6 Q240.7 769.7 243.6 769.7Z" fill="#000"/><path d="M243.7 777.8 L263.2 777.8 Q266.2 777.8 266.2 781.3 Q266.2 784.8 263.2 784.8 L243.7 784.8 Q240.7 784.8 240.7 781.3 Q240.7 777.8 243.7 777.8Z" fill="#000"/><path d="M271.7 773.3 L288.8 773.3 Q290.4 773.3 290.4 774.9 Q290.4 776.5 288.8 776.5 L271.7 776.5 Q270.1 776.5 270.1 774.9 Q270.1 773.3 271.7 773.3Z" fill="#959595"/><path d="M272.0 780.8 L288.5 780.8 Q290.4 780.8 290.4 782.7 Q290.4 784.6 288.5 784.6 L272.0 784.6 Q270.1 784.6 270.1 782.7 Q270.1 780.8 272.0 780.8Z" fill="#262626"/><rect x="296.8" y="774.9" width="22.7" height="9.1" fill="#b4b4b4"/><path d="M297.7 772.0 L318.6 772.0 Q321.5 772.0 321.5 774.9 Q321.5 777.8 318.6 777.8 L297.7 777.8 Q294.8 777.8 294.8 774.9 Q294.8 772.0 297.7 772.0Z" fill="#000"/><path d="M297.8 780.1 L318.5 780.1 Q321.5 780.1 321.5 784.0 Q321.5 787.9 318.5 787.9 L297.8 787.9 Q294.8 787.9 294.8 784.0 Q294.8 780.1 297.8 780.1Z" fill="#000"/><rect x="327.7" y="776.1" width="18.9" height="8.7" fill="#b4b4b4"/><path d="M327.9 773.9 L346.4 773.9 Q348.6 773.9 348.6 776.1 Q348.6 778.3 346.4 778.3 L327.9 778.3 Q325.7 778.3 325.7 776.1 Q325.7 773.9 327.9 773.9Z" fill="#0a0a0a"/><path d="M328.7 781.6 L345.6 781.6 Q348.6 781.6 348.6 784.8 Q348.6 788.0 345.6 788.0 L328.7 788.0 Q325.7 788.0 325.7 784.8 Q325.7 781.6 328.7 781.6Z" fill="#000"/><rect x="353.6" y="774.4" width="22.4" height="7.9" fill="#b4b4b4"/><path d="M354.5 771.5 L375.1 771.5 Q378.0 771.5 378.0 774.4 Q378.0 777.3 375.1 777.3 L354.5 777.3 Q351.6 777.3 351.6 774.4 Q351.6 771.5 354.5 771.5Z" fill="#000"/><path d="M354.6 778.8 L375.0 778.8 Q378.0 778.8 378.0 782.3 Q378.0 785.8 375.0 785.8 L354.6 785.8 Q351.6 785.8 351.6 782.3 Q351.6 778.8 354.6 778.8Z" fill="#000"/><rect x="383.0" y="774.4" width="21.5" height="7.9" fill="#b4b4b4"/><path d="M383.4 772.0 L404.1 772.0 Q406.5 772.0 406.5 774.4 Q406.5 776.8 404.1 776.8 L383.4 776.8 Q381.0 776.8 381.0 774.4 Q381.0 772.0 383.4 772.0Z" fill="#000"/><path d="M384.0 779.1 L403.5 779.1 Q406.5 779.1 406.5 782.3 Q406.5 785.5 403.5 785.5 L384.0 785.5 Q381.0 785.5 381.0 782.3 Q381.0 779.1 384.0 779.1Z" fill="#000"/><rect x="411.8" y="774.9" width="20.6" height="7.8" fill="#b4b4b4"/><path d="M412.4 772.3 L431.8 772.3 Q434.4 772.3 434.4 774.9 Q434.4 777.5 431.8 777.5 L412.4 777.5 Q409.8 777.5 409.8 774.9 Q409.8 772.3 412.4 772.3Z" fill="#000"/><path d="M412.8 779.2 L431.4 779.2 Q434.4 779.2 434.4 782.7 Q434.4 786.2 431.4 786.2 L412.8 786.2 Q409.8 786.2 409.8 782.7 Q409.8 779.2 412.8 779.2Z" fill="#000"/><rect x="439.5" y="774.9" width="20.6" height="8.1" fill="#b4b4b4"/><path d="M440.1 772.3 L459.5 772.3 Q462.1 772.3 462.1 774.9 Q462.1 777.5 459.5 777.5 L440.1 777.5 Q437.5 777.5 437.5 774.9 Q437.5 772.3 440.1 772.3Z" fill="#000"/><path d="M440.5 779.3 L459.1 779.3 Q462.1 779.3 462.1 783.0 Q462.1 786.7 459.1 786.7 L440.5 786.7 Q437.5 786.7 437.5 783.0 Q437.5 779.3 440.5 779.3Z" fill="#000"/><rect x="466.8" y="774.9" width="25.2" height="8.6" fill="#b4b4b4"/><path d="M467.4 772.3 L491.4 772.3 Q494.0 772.3 494.0 774.9 Q494.0 777.5 491.4 777.5 L467.4 777.5 Q464.8 777.5 464.8 774.9 Q464.8 772.3 467.4 772.3Z" fill="#000"/><path d="M467.8 779.8 L491.0 781.4 Q494.0 781.4 494.0 785.1 Q494.0 788.8 491.0 788.8 L467.8 787.2 Q464.8 787.2 464.8 783.5 Q464.8 779.8 467.8 779.8Z" fill="#000"/></g></g>
<rect x="159.5" y="763.7" width="335.7" height="31.4" rx="1" fill="none" stroke="#fafafa" stroke-width="0.9" opacity="0.8"/>
<rect x="158.2" y="762.4" width="338.3" height="34.0" rx="1.6" fill="none" stroke="#808080" stroke-width="1.4"/>
<g clip-path="url(#c30)"><g filter="url(#f31)"><rect x="155.2" y="797.5" width="343.8" height="31.9" fill="url(#g29)"/><rect x="164.6" y="811.0" width="24.0" height="6.6" fill="#b0b0b0"/><path d="M165.6 807.9 L187.6 807.9 Q190.6 807.9 190.6 811.0 Q190.6 814.1 187.6 814.1 L165.6 814.1 Q162.6 814.1 162.6 811.0 Q162.6 807.9 165.6 807.9Z" fill="#000"/><path d="M164.8 822.0 Q172.6 818.2 188.4 817.9" stroke="#060606" stroke-width="4.0" stroke-linecap="round" fill="none"/><rect x="195.5" y="810.2" width="21.1" height="7.1" fill="#b0b0b0"/><path d="M196.5 807.1 L215.6 807.1 Q218.6 807.1 218.6 810.2 Q218.6 813.3 215.6 813.3 L196.5 813.3 Q193.5 813.3 193.5 810.2 Q193.5 807.1 196.5 807.1Z" fill="#000"/><path d="M196.1 816.2 L216.0 816.2 Q218.1 816.2 218.1 818.3 Q218.1 820.4 216.0 820.4 L196.1 820.4 Q194.0 820.4 194.0 818.3 Q194.0 816.2 196.1 816.2Z" fill="#060606"/><rect x="223.7" y="809.6" width="19.8" height="7.0" fill="#b0b0b0"/><path d="M224.7 806.5 L242.5 806.5 Q245.5 806.5 245.5 809.6 Q245.5 812.7 242.5 812.7 L224.7 812.7 Q221.7 812.7 221.7 809.6 Q221.7 806.5 224.7 806.5Z" fill="#000"/><path d="M224.3 815.5 L242.9 815.5 Q245.0 815.5 245.0 817.6 Q245.0 819.7 242.9 819.7 L224.3 819.7 Q222.2 819.7 222.2 817.6 Q222.2 815.5 224.3 815.5Z" fill="#060606"/><rect x="249.8" y="808.8" width="20.7" height="6.8" fill="#b0b0b0"/><path d="M250.8 805.7 L269.5 805.7 Q272.5 805.7 272.5 808.8 Q272.5 811.9 269.5 811.9 L250.8 811.9 Q247.8 811.9 247.8 808.8 Q247.8 805.7 250.8 805.7Z" fill="#000"/><path d="M250.4 814.5 L269.9 814.5 Q272.0 814.5 272.0 816.6 Q272.0 818.7 269.9 818.7 L250.4 818.7 Q248.3 818.7 248.3 816.6 Q248.3 814.5 250.4 814.5Z" fill="#060606"/><rect x="277.8" y="808.8" width="20.4" height="6.8" fill="#b0b0b0"/><path d="M278.8 805.7 L297.2 805.7 Q300.2 805.7 300.2 808.8 Q300.2 811.9 297.2 811.9 L278.8 811.9 Q275.8 811.9 275.8 808.8 Q275.8 805.7 278.8 805.7Z" fill="#000"/><path d="M278.4 814.5 L297.6 814.5 Q299.7 814.5 299.7 816.6 Q299.7 818.7 297.6 818.7 L278.4 818.7 Q276.3 818.7 276.3 816.6 Q276.3 814.5 278.4 814.5Z" fill="#060606"/><rect x="304.8" y="808.8" width="20.4" height="6.8" fill="#b0b0b0"/><path d="M305.8 805.7 L324.2 805.7 Q327.2 805.7 327.2 808.8 Q327.2 811.9 324.2 811.9 L305.8 811.9 Q302.8 811.9 302.8 808.8 Q302.8 805.7 305.8 805.7Z" fill="#000"/><path d="M305.4 814.5 L324.6 814.5 Q326.7 814.5 326.7 816.6 Q326.7 818.7 324.6 818.7 L305.4 818.7 Q303.3 818.7 303.3 816.6 Q303.3 814.5 305.4 814.5Z" fill="#060606"/><rect x="331.8" y="810.0" width="19.9" height="7.1" fill="#b0b0b0"/><path d="M332.8 806.9 L350.7 806.9 Q353.7 806.9 353.7 810.0 Q353.7 813.1 350.7 813.1 L332.8 813.1 Q329.8 813.1 329.8 810.0 Q329.8 806.9 332.8 806.9Z" fill="#000"/><path d="M332.4 816.0 L351.1 816.0 Q353.2 816.0 353.2 818.1 Q353.2 820.2 351.1 820.2 L332.4 820.2 Q330.3 820.2 330.3 818.1 Q330.3 816.0 332.4 816.0Z" fill="#060606"/><rect x="357.8" y="810.0" width="21.4" height="7.1" fill="#b0b0b0"/><path d="M358.8 806.9 L378.2 806.9 Q381.2 806.9 381.2 810.0 Q381.2 813.1 378.2 813.1 L358.8 813.1 Q355.8 813.1 355.8 810.0 Q355.8 806.9 358.8 806.9Z" fill="#000"/><path d="M358.4 816.0 L378.6 816.0 Q380.7 816.0 380.7 818.1 Q380.7 820.2 378.6 820.2 L358.4 820.2 Q356.3 820.2 356.3 818.1 Q356.3 816.0 358.4 816.0Z" fill="#060606"/><rect x="385.3" y="810.0" width="20.4" height="7.1" fill="#b0b0b0"/><path d="M386.3 806.9 L404.7 806.9 Q407.7 806.9 407.7 810.0 Q407.7 813.1 404.7 813.1 L386.3 813.1 Q383.3 813.1 383.3 810.0 Q383.3 806.9 386.3 806.9Z" fill="#000"/><path d="M385.9 816.0 L405.1 816.0 Q407.2 816.0 407.2 818.1 Q407.2 820.2 405.1 820.2 L385.9 820.2 Q383.8 820.2 383.8 818.1 Q383.8 816.0 385.9 816.0Z" fill="#060606"/><rect x="411.8" y="810.7" width="20.9" height="7.6" fill="#b0b0b0"/><path d="M412.8 807.6 L431.7 807.6 Q434.7 807.6 434.7 810.7 Q434.7 813.8 431.7 813.8 L412.8 813.8 Q409.8 813.8 409.8 810.7 Q409.8 807.6 412.8 807.6Z" fill="#000"/><path d="M412.4 817.2 L432.1 817.2 Q434.2 817.2 434.2 819.3 Q434.2 821.4 432.1 821.4 L412.4 821.4 Q410.3 821.4 410.3 819.3 Q410.3 817.2 412.4 817.2Z" fill="#060606"/><rect x="438.8" y="810.7" width="21.4" height="7.6" fill="#b0b0b0"/><path d="M439.8 807.6 L459.2 807.6 Q462.2 807.6 462.2 810.7 Q462.2 813.8 459.2 813.8 L439.8 813.8 Q436.8 813.8 436.8 810.7 Q436.8 807.6 439.8 807.6Z" fill="#000"/><path d="M439.4 817.2 L459.6 817.2 Q461.7 817.2 461.7 819.3 Q461.7 821.4 459.6 821.4 L439.4 821.4 Q437.3 821.4 437.3 819.3 Q437.3 817.2 439.4 817.2Z" fill="#060606"/><rect x="466.8" y="810.7" width="25.2" height="7.3" fill="#b0b0b0"/><path d="M467.8 807.6 L491.0 807.6 Q494.0 807.6 494.0 810.7 Q494.0 813.8 491.0 813.8 L467.8 813.8 Q464.8 813.8 464.8 810.7 Q464.8 807.6 467.8 807.6Z" fill="#000"/><path d="M467.0 818.8 Q482.0 818.9 489.0 822.0" stroke="#060606" stroke-width="4.0" stroke-linecap="round" fill="none"/><circle cx="314.7" cy="821" r="1.1" fill="#111"/></g></g>
<rect x="159.5" y="801.8" width="335.2" height="23.3" rx="1" fill="none" stroke="#f4f4f4" stroke-width="0.9" opacity="0.8"/>
<rect x="158.2" y="800.5" width="337.8" height="25.9" rx="1.6" fill="none" stroke="#808080" stroke-width="1.4"/>
<!-- /blots -->
</svg>
<div id="frame"></div>
</body></html>
